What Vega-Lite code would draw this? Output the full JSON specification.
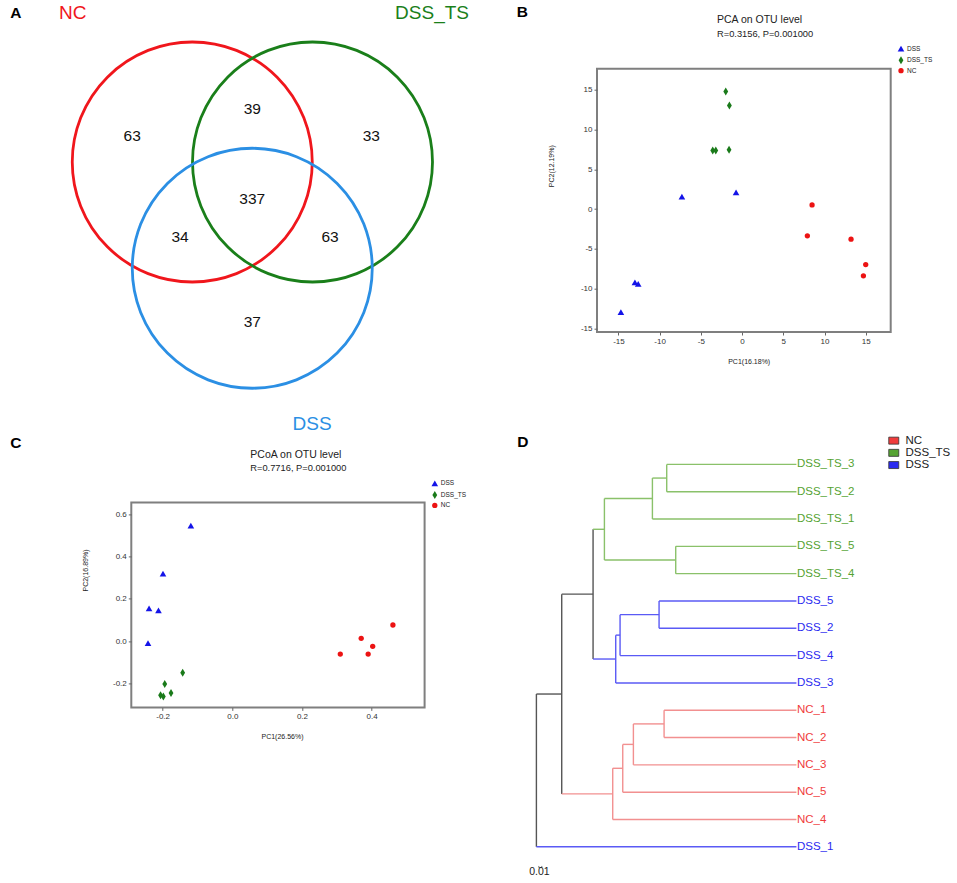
{
  "$schema": "https://vega.github.io/schema/vega-lite/v6.json",
  "autosize": {"type": "none"},
  "padding": {"left": 131.3, "top": 68.7, "right": 825.7, "bottom": 814.3},
  "background": "white",
  "columns": 2,
  "align": "each",
  "bounds": "flush",
  "spacing": {"row": 169.7, "column": 171.7},
  "resolve": {
    "scale": {"color": "independent", "stroke": "independent", "shape": "independent", "size": "independent", "x": "independent", "y": "independent"},
    "legend": {"color": "independent", "shape": "independent", "stroke": "independent", "size": "independent"}
  },
  "config": {
    "font": "Liberation Sans",
    "view": {"stroke": null},
    "locale": {"number": {"decimal": ".", "thousands": ",", "grouping": [3], "currency": ["$", ""], "minus": "-"}},
    "axis": {"grid": false, "domain": false, "labelFontSize": 8, "labelColor": "#333333", "tickColor": "#666666", "tickSize": 3, "labelPadding": 2, "titleFontSize": 7, "titleFontWeight": "normal", "titleColor": "#222222", "titleBaseline": "middle", "titleAlign": "center"},
    "legend": {"title": null, "labelFontSize": 6.5, "labelColor": "#222222", "padding": 0, "symbolSize": 25, "rowPadding": 3, "labelOffset": 1}
  },
  "datasets": {
    "venn_sets": [
      {"set": "NC", "cx": -0.492, "cy": 0.2225, "lx": -1.488, "ly": 1.467},
      {"set": "DSS_TS", "cx": 0.51, "cy": 0.2225, "lx": 1.506, "ly": 1.467},
      {"set": "DSS", "cx": 0.008, "cy": -0.663, "lx": 0.506, "ly": -1.961}
    ],
    "venn_counts": [
      {"region": "NC only", "n": 63, "x": -0.993, "y": 0.4425},
      {"region": "NC & DSS_TS", "n": 39, "x": 0.008, "y": 0.6675},
      {"region": "DSS_TS only", "n": 33, "x": 1.0, "y": 0.4425},
      {"region": "all", "n": 337, "x": 0.008, "y": -0.0883},
      {"region": "NC & DSS", "n": 34, "x": -0.594, "y": -0.4},
      {"region": "DSS_TS & DSS", "n": 63, "x": 0.656, "y": -0.4},
      {"region": "DSS only", "n": 37, "x": 0.008, "y": -1.11}
    ],
    "panel_letters": [
      {"letter": "A", "x": -1.963, "y": 1.467},
      {"letter": "B", "x": 2.258, "y": 1.475},
      {"letter": "C", "x": -1.963, "y": -2.117},
      {"letter": "D", "x": 2.262, "y": -2.108}
    ],
    "pca": [
      {"group": "DSS", "PC1": -14.7, "PC2": -12.95},
      {"group": "DSS", "PC1": -13.0, "PC2": -9.2},
      {"group": "DSS", "PC1": -12.6, "PC2": -9.4},
      {"group": "DSS", "PC1": -7.3, "PC2": 1.57},
      {"group": "DSS", "PC1": -0.73, "PC2": 2.1},
      {"group": "DSS_TS", "PC1": -1.98, "PC2": 14.75},
      {"group": "DSS_TS", "PC1": -1.54, "PC2": 13.0},
      {"group": "DSS_TS", "PC1": -3.56, "PC2": 7.34},
      {"group": "DSS_TS", "PC1": -3.19, "PC2": 7.34},
      {"group": "DSS_TS", "PC1": -1.58, "PC2": 7.43},
      {"group": "NC", "PC1": 8.49, "PC2": 0.52},
      {"group": "NC", "PC1": 7.92, "PC2": -3.37},
      {"group": "NC", "PC1": 13.22, "PC2": -3.79},
      {"group": "NC", "PC1": 15.0, "PC2": -6.97},
      {"group": "NC", "PC1": 14.72, "PC2": -8.39}
    ],
    "pcoa": [
      {"group": "DSS", "PC1": -0.119, "PC2": 0.548},
      {"group": "DSS", "PC1": -0.199, "PC2": 0.32},
      {"group": "DSS", "PC1": -0.239, "PC2": 0.155},
      {"group": "DSS", "PC1": -0.212, "PC2": 0.146},
      {"group": "DSS", "PC1": -0.242, "PC2": -0.0095},
      {"group": "DSS_TS", "PC1": -0.1425, "PC2": -0.15},
      {"group": "DSS_TS", "PC1": -0.194, "PC2": -0.204},
      {"group": "DSS_TS", "PC1": -0.176, "PC2": -0.247},
      {"group": "DSS_TS", "PC1": -0.206, "PC2": -0.257},
      {"group": "DSS_TS", "PC1": -0.198, "PC2": -0.263},
      {"group": "NC", "PC1": 0.31, "PC2": -0.062},
      {"group": "NC", "PC1": 0.37, "PC2": 0.0127},
      {"group": "NC", "PC1": 0.403, "PC2": -0.025},
      {"group": "NC", "PC1": 0.39, "PC2": -0.062},
      {"group": "NC", "PC1": 0.461, "PC2": 0.076}
    ],
    "tree": [
      {"x1": 0.4344, "x2": 0.4344, "y1": 1, "y2": 2, "group": "DSS_TS"},
      {"x1": 0.3867, "x2": 0.3867, "y1": 1.5, "y2": 3, "group": "DSS_TS"},
      {"x1": 0.4644, "x2": 0.4644, "y1": 4, "y2": 5, "group": "DSS_TS"},
      {"x1": 0.2267, "x2": 0.2267, "y1": 2.25, "y2": 4.5, "group": "DSS_TS"},
      {"x1": 0.4089, "x2": 0.4089, "y1": 6, "y2": 7, "group": "DSS"},
      {"x1": 0.2789, "x2": 0.2789, "y1": 6.5, "y2": 8, "group": "DSS"},
      {"x1": 0.2644, "x2": 0.2644, "y1": 7.25, "y2": 9, "group": "DSS"},
      {"x1": 0.1889, "x2": 0.1889, "y1": 3.375, "y2": 8.125, "group": "mixed"},
      {"x1": 0.4256, "x2": 0.4256, "y1": 10, "y2": 11, "group": "NC"},
      {"x1": 0.3233, "x2": 0.3233, "y1": 10.5, "y2": 12, "group": "NC"},
      {"x1": 0.2878, "x2": 0.2878, "y1": 11.25, "y2": 13, "group": "NC"},
      {"x1": 0.2544, "x2": 0.2544, "y1": 12.125, "y2": 14, "group": "NC"},
      {"x1": 0.0844, "x2": 0.0844, "y1": 5.75, "y2": 13.0625, "group": "mixed"},
      {"x1": 0, "x2": 0, "y1": 9.40625, "y2": 15, "group": "mixed"},
      {"x1": 0.4344, "x2": 0.8667, "y1": 1, "y2": 1, "group": "DSS_TS"},
      {"x1": 0.4344, "x2": 0.8667, "y1": 2, "y2": 2, "group": "DSS_TS"},
      {"x1": 0.3867, "x2": 0.4344, "y1": 1.5, "y2": 1.5, "group": "DSS_TS"},
      {"x1": 0.3867, "x2": 0.8667, "y1": 3, "y2": 3, "group": "DSS_TS"},
      {"x1": 0.4644, "x2": 0.8667, "y1": 4, "y2": 4, "group": "DSS_TS"},
      {"x1": 0.4644, "x2": 0.8667, "y1": 5, "y2": 5, "group": "DSS_TS"},
      {"x1": 0.2267, "x2": 0.3867, "y1": 2.25, "y2": 2.25, "group": "DSS_TS"},
      {"x1": 0.2267, "x2": 0.4644, "y1": 4.5, "y2": 4.5, "group": "DSS_TS"},
      {"x1": 0.1889, "x2": 0.2267, "y1": 3.375, "y2": 3.375, "group": "DSS_TS"},
      {"x1": 0.4089, "x2": 0.8667, "y1": 6, "y2": 6, "group": "DSS"},
      {"x1": 0.4089, "x2": 0.8667, "y1": 7, "y2": 7, "group": "DSS"},
      {"x1": 0.2789, "x2": 0.4089, "y1": 6.5, "y2": 6.5, "group": "DSS"},
      {"x1": 0.2789, "x2": 0.8667, "y1": 8, "y2": 8, "group": "DSS"},
      {"x1": 0.2644, "x2": 0.2789, "y1": 7.25, "y2": 7.25, "group": "DSS"},
      {"x1": 0.2644, "x2": 0.8667, "y1": 9, "y2": 9, "group": "DSS"},
      {"x1": 0.1889, "x2": 0.2644, "y1": 8.125, "y2": 8.125, "group": "DSS"},
      {"x1": 0.0844, "x2": 0.1889, "y1": 5.75, "y2": 5.75, "group": "mixed"},
      {"x1": 0.4256, "x2": 0.8667, "y1": 10, "y2": 10, "group": "NC"},
      {"x1": 0.4256, "x2": 0.8667, "y1": 11, "y2": 11, "group": "NC"},
      {"x1": 0.3233, "x2": 0.4256, "y1": 10.5, "y2": 10.5, "group": "NC"},
      {"x1": 0.3233, "x2": 0.8667, "y1": 12, "y2": 12, "group": "NC"},
      {"x1": 0.2878, "x2": 0.3233, "y1": 11.25, "y2": 11.25, "group": "NC"},
      {"x1": 0.2878, "x2": 0.8667, "y1": 13, "y2": 13, "group": "NC"},
      {"x1": 0.2544, "x2": 0.2878, "y1": 12.125, "y2": 12.125, "group": "NC"},
      {"x1": 0.2544, "x2": 0.8667, "y1": 14, "y2": 14, "group": "NC"},
      {"x1": 0.0844, "x2": 0.2544, "y1": 13.0625, "y2": 13.0625, "group": "NC"},
      {"x1": 0, "x2": 0.0844, "y1": 9.40625, "y2": 9.40625, "group": "mixed"},
      {"x1": 0, "x2": 0.8667, "y1": 15, "y2": 15, "group": "DSS"}
    ],
    "leaves": [
      {"label": "DSS_TS_3", "group": "DSS_TS", "row": 1, "dist": 0.8667},
      {"label": "DSS_TS_2", "group": "DSS_TS", "row": 2, "dist": 0.8667},
      {"label": "DSS_TS_1", "group": "DSS_TS", "row": 3, "dist": 0.8667},
      {"label": "DSS_TS_5", "group": "DSS_TS", "row": 4, "dist": 0.8667},
      {"label": "DSS_TS_4", "group": "DSS_TS", "row": 5, "dist": 0.8667},
      {"label": "DSS_5", "group": "DSS", "row": 6, "dist": 0.8667},
      {"label": "DSS_2", "group": "DSS", "row": 7, "dist": 0.8667},
      {"label": "DSS_4", "group": "DSS", "row": 8, "dist": 0.8667},
      {"label": "DSS_3", "group": "DSS", "row": 9, "dist": 0.8667},
      {"label": "NC_1", "group": "NC", "row": 10, "dist": 0.8667},
      {"label": "NC_2", "group": "NC", "row": 11, "dist": 0.8667},
      {"label": "NC_3", "group": "NC", "row": 12, "dist": 0.8667},
      {"label": "NC_5", "group": "NC", "row": 13, "dist": 0.8667},
      {"label": "NC_4", "group": "NC", "row": 14, "dist": 0.8667},
      {"label": "DSS_1", "group": "DSS", "row": 15, "dist": 0.8667}
    ],
    "scalebar": [
      {"x1": 0.008, "x2": 0.018, "y1": 15.76, "y2": 15.76},
      {"x1": 0.008, "x2": 0.008, "y1": 15.7, "y2": 15.76},
      {"x1": 0.018, "x2": 0.018, "y1": 15.7, "y2": 15.76}
    ],
    "scalebar_label": [
      {"text": "0.01", "x": 0.01, "y": 15.91}
    ]
  },
  "concat": [
    {
      "width": 240,
      "height": 240,
      "view": {"stroke": null},
      "layer": [
        {
          "data": {"name": "venn_sets"},
          "mark": {"type": "point", "shape": "circle", "filled": false, "size": 57600, "strokeWidth": 2.8, "opacity": 1},
          "encoding": {
            "x": {"field": "cx", "type": "quantitative", "scale": {"domain": [-1, 1], "nice": false, "zero": false}, "axis": null},
            "y": {"field": "cy", "type": "quantitative", "scale": {"domain": [-1, 1], "nice": false, "zero": false}, "axis": null},
            "stroke": {"field": "set", "type": "nominal", "scale": {"domain": ["NC", "DSS_TS", "DSS"], "range": ["#f0161c", "#1a7f1a", "#2b8fe4"]}, "legend": null}
          }
        },
        {
          "data": {"name": "venn_sets"},
          "mark": {"type": "text", "fontSize": 19, "baseline": "middle", "align": "center"},
          "encoding": {
            "x": {"field": "lx", "type": "quantitative", "scale": {"domain": [-1, 1], "nice": false, "zero": false}, "axis": null},
            "y": {"field": "ly", "type": "quantitative", "scale": {"domain": [-1, 1], "nice": false, "zero": false}, "axis": null},
            "text": {"field": "set"},
            "color": {"field": "set", "type": "nominal", "scale": {"domain": ["NC", "DSS_TS", "DSS"], "range": ["#f0161c", "#1a7f1a", "#2b8fe4"]}, "legend": null}
          }
        },
        {
          "data": {"name": "venn_counts"},
          "mark": {"type": "text", "fontSize": 15.5, "baseline": "middle", "align": "center", "color": "#111111"},
          "encoding": {
            "x": {"field": "x", "type": "quantitative", "scale": {"domain": [-1, 1], "nice": false, "zero": false}, "axis": null},
            "y": {"field": "y", "type": "quantitative", "scale": {"domain": [-1, 1], "nice": false, "zero": false}, "axis": null},
            "text": {"field": "n"}
          }
        },
        {
          "data": {"name": "panel_letters"},
          "mark": {"type": "text", "fontSize": 15.5, "fontWeight": "bold", "baseline": "middle", "align": "center", "color": "#000000"},
          "encoding": {
            "x": {"field": "x", "type": "quantitative", "scale": {"domain": [-1, 1], "nice": false, "zero": false}, "axis": null},
            "y": {"field": "y", "type": "quantitative", "scale": {"domain": [-1, 1], "nice": false, "zero": false}, "axis": null},
            "text": {"field": "letter"}
          }
        }
      ]
    },
    {
      "width": 293.7,
      "height": 263.3,
      "view": {"stroke": "#7f7f7f", "strokeWidth": 2},
      "title": {"text": "PCA on OTU level", "subtitle": "R=0.3156, P=0.001000", "anchor": "start", "frame": "group", "dx": 120, "offset": 5, "fontSize": 10.5, "fontWeight": "normal", "color": "#222222", "subtitleFontSize": 9.3, "subtitleColor": "#222222", "subtitlePadding": 4},
      "layer": [
        {
          "mark": {"type": "rule", "strokeDash": [2, 2], "color": "#cccccc", "strokeWidth": 1},
          "encoding": {"x": {"datum": 0, "type": "quantitative", "scale": {"domain": [-17.6, 18.03], "nice": false, "zero": false}}}
        },
        {
          "mark": {"type": "rule", "strokeDash": [2, 2], "color": "#cccccc", "strokeWidth": 1},
          "encoding": {"y": {"datum": 0, "type": "quantitative", "scale": {"domain": [-15.44, 17.62], "nice": false, "zero": false}}}
        },
        {
          "data": {"name": "pca"},
          "mark": {"type": "point", "filled": true, "opacity": 1},
          "encoding": {
            "x": {"field": "PC1", "type": "quantitative", "scale": {"domain": [-17.6, 18.03], "nice": false, "zero": false}, "axis": {"values": [-15, -10, -5, 0, 5, 10, 15], "title": "PC1(16.18%)", "titleX": 151.7, "titleY": 29}},
            "y": {"field": "PC2", "type": "quantitative", "scale": {"domain": [-15.44, 17.62], "nice": false, "zero": false}, "axis": {"values": [-15, -10, -5, 0, 5, 10, 15], "title": "PC2(12.19%)", "titleX": -46, "titleY": 97}},
            "color": {"field": "group", "type": "nominal", "scale": {"domain": ["DSS", "DSS_TS", "NC"], "range": ["#1414e8", "#1a7a1a", "#ec1313"]}, "legend": {"orient": "none", "legendX": 299, "legendY": -24.5}},
            "shape": {"field": "group", "type": "nominal", "scale": {"domain": ["DSS", "DSS_TS", "NC"], "range": ["triangle-up", "M0,-1L0.6,0L0,1L-0.6,0Z", "circle"]}, "legend": {"orient": "none", "legendX": 299, "legendY": -24.5}},
            "size": {"field": "group", "type": "nominal", "scale": {"type": "ordinal", "domain": ["DSS", "DSS_TS", "NC"], "range": [44, 64, 28]}, "legend": null}
          }
        }
      ]
    },
    {
      "width": 293.3,
      "height": 205,
      "view": {"stroke": "#7f7f7f", "strokeWidth": 2},
      "title": {"text": "PCoA on OTU level", "subtitle": "R=0.7716, P=0.001000", "anchor": "start", "frame": "group", "dx": 119, "offset": 5.5, "fontSize": 10.5, "fontWeight": "normal", "color": "#222222", "subtitleFontSize": 9.3, "subtitleColor": "#222222", "subtitlePadding": 4},
      "layer": [
        {
          "mark": {"type": "rule", "strokeDash": [2, 2], "color": "#cccccc", "strokeWidth": 1},
          "encoding": {"x": {"datum": 0, "type": "quantitative", "scale": {"domain": [-0.29, 0.552], "nice": false, "zero": false}}}
        },
        {
          "mark": {"type": "rule", "strokeDash": [2, 2], "color": "#cccccc", "strokeWidth": 1},
          "encoding": {"y": {"datum": 0, "type": "quantitative", "scale": {"domain": [-0.315, 0.658], "nice": false, "zero": false}}}
        },
        {
          "data": {"name": "pcoa"},
          "mark": {"type": "point", "filled": true, "opacity": 1},
          "encoding": {
            "x": {"field": "PC1", "type": "quantitative", "scale": {"domain": [-0.29, 0.552], "nice": false, "zero": false}, "axis": {"values": [-0.2, 0, 0.2, 0.4], "format": ".1f", "title": "PC1(26.56%)", "titleX": 150.7, "titleY": 29}},
            "y": {"field": "PC2", "type": "quantitative", "scale": {"domain": [-0.315, 0.658], "nice": false, "zero": false}, "axis": {"values": [-0.2, 0, 0.2, 0.4, 0.6], "format": ".1f", "title": "PC2(16.89%)", "titleX": -46.3, "titleY": 67.6}},
            "color": {"field": "group", "type": "nominal", "scale": {"domain": ["DSS", "DSS_TS", "NC"], "range": ["#1414e8", "#1a7a1a", "#ec1313"]}, "legend": {"orient": "none", "legendX": 298.5, "legendY": -23.5}},
            "shape": {"field": "group", "type": "nominal", "scale": {"domain": ["DSS", "DSS_TS", "NC"], "range": ["triangle-up", "M0,-1L0.6,0L0,1L-0.6,0Z", "circle"]}, "legend": {"orient": "none", "legendX": 298.5, "legendY": -23.5}},
            "size": {"field": "group", "type": "nominal", "scale": {"type": "ordinal", "domain": ["DSS", "DSS_TS", "NC"], "range": [44, 64, 28]}, "legend": null}
          }
        }
      ]
    },
    {
      "width": 300,
      "height": 381.3,
      "view": {"stroke": null},
      "layer": [
        {
          "data": {"name": "tree"},
          "mark": {"type": "rule", "strokeWidth": 1.4},
          "encoding": {
            "x": {"field": "x1", "type": "quantitative", "scale": {"domain": [0.202, 1.202], "nice": false, "zero": false}, "axis": null},
            "x2": {"field": "x2"},
            "y": {"field": "y1", "type": "quantitative", "scale": {"domain": [2.391, 16.35], "reverse": true, "nice": false, "zero": false}, "axis": null},
            "y2": {"field": "y2"},
            "stroke": {"field": "group", "type": "nominal", "scale": {"domain": ["DSS_TS", "DSS", "NC", "mixed"], "range": ["#8ac16a", "#5a5af5", "#f29090", "#555555"]}, "legend": null}
          }
        },
        {
          "data": {"name": "leaves"},
          "mark": {"type": "text", "fontSize": 11.5, "align": "left", "baseline": "middle", "dx": 0.5},
          "encoding": {
            "x": {"field": "dist", "type": "quantitative", "scale": {"domain": [0.202, 1.202], "nice": false, "zero": false}, "axis": null},
            "y": {"field": "row", "type": "quantitative", "scale": {"domain": [2.391, 16.35], "reverse": true, "nice": false, "zero": false}, "axis": null},
            "text": {"field": "label"},
            "color": {"field": "group", "type": "nominal", "scale": {"domain": ["NC", "DSS_TS", "DSS"], "range": ["#f03c3c", "#55a332", "#2a2af0"]}, "legend": {"orient": "none", "legendX": 291, "legendY": -67.5, "symbolType": "M-1,-0.7L1,-0.7L1,0.7L-1,0.7Z", "symbolSize": 100, "symbolStrokeColor": "#333333", "symbolStrokeWidth": 0.8, "labelFontSize": 11.5, "rowPadding": -0.8, "labelOffset": 6}}
          }
        },
        {
          "data": {"name": "scalebar"},
          "mark": {"type": "rule", "strokeWidth": 0.8, "color": "#555555"},
          "encoding": {
            "x": {"field": "x1", "type": "quantitative", "scale": {"domain": [0.202, 1.202], "nice": false, "zero": false}, "axis": null},
            "x2": {"field": "x2"},
            "y": {"field": "y1", "type": "quantitative", "scale": {"domain": [2.391, 16.35], "reverse": true, "nice": false, "zero": false}, "axis": null},
            "y2": {"field": "y2"}
          }
        },
        {
          "data": {"name": "scalebar_label"},
          "mark": {"type": "text", "fontSize": 10.5, "align": "center", "baseline": "middle", "color": "#222222"},
          "encoding": {
            "x": {"field": "x", "type": "quantitative", "scale": {"domain": [0.202, 1.202], "nice": false, "zero": false}, "axis": null},
            "y": {"field": "y", "type": "quantitative", "scale": {"domain": [2.391, 16.35], "reverse": true, "nice": false, "zero": false}, "axis": null},
            "text": {"field": "text"}
          }
        }
      ]
    }
  ]
}
